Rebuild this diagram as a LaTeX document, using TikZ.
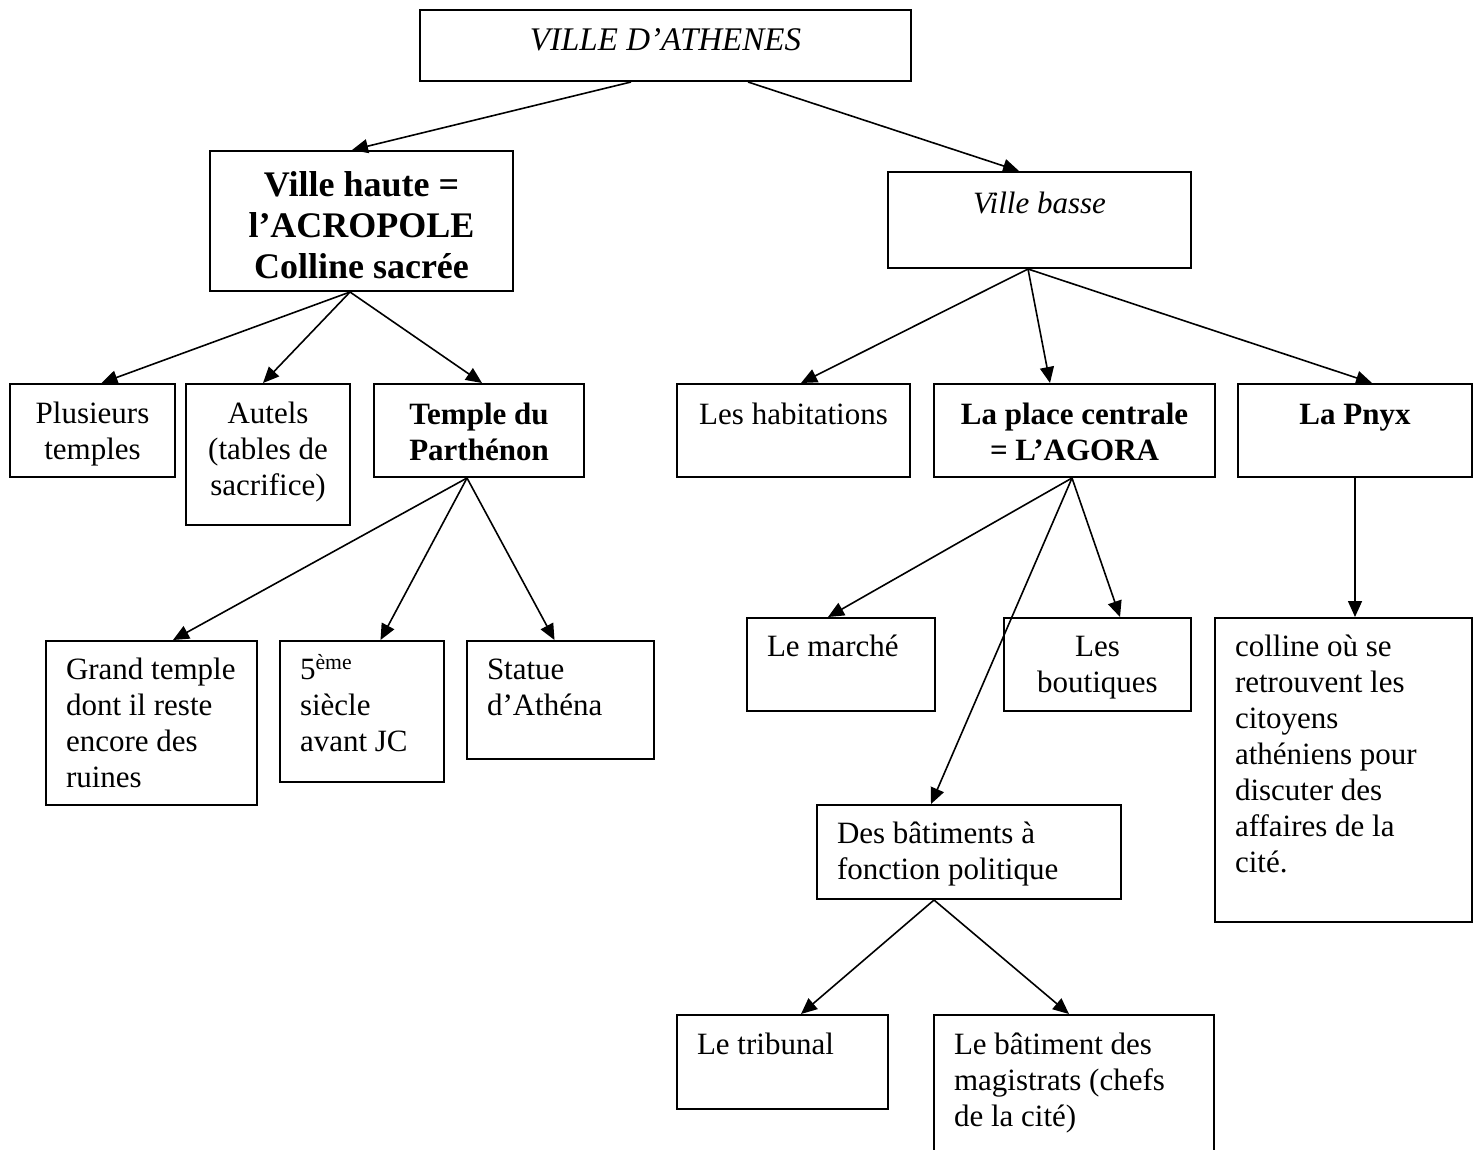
\documentclass[tikz,border=0pt]{standalone}
\usepackage{fontspec}
\setmainfont{Liberation Serif}
\usetikzlibrary{arrows.meta}
\newcommand\nf{\fontsize{31}{36}\selectfont}
\newcommand\boxC[4]{\parbox[c][#2pt][t]{#1pt}{\centering\leftskip=-50pt plus 1fil\rightskip=-50pt plus 1fil\parskip=0pt\rule{0pt}{#3pt}#4\par}}
\newcommand\boxL[4]{\parbox[c][#2pt][t]{#1pt}{\raggedright\leftskip=20pt\rightskip=-50pt plus 1fil\parskip=0pt\rule{0pt}{#3pt}#4\par}}
\tikzset{
  bx/.style={draw, line width=2pt, inner sep=0pt, anchor=north west, font=\nf},
  arr/.style={line width=1.6pt, -{Triangle[length=16pt,width=14pt]}}
}
\begin{document}
\begin{tikzpicture}[x=1pt,y=-1pt]
\useasboundingbox (0,0) rectangle (1479,1149);
\fill[white] (0,0) rectangle (1479,1149);
\clip (0,0) rectangle (1479,1149);
% boxes
\node[bx, font={\fontsize{33}{36}\selectfont\itshape}] (ville) at (419,9) {\boxC{491}{71}{40}{VILLE D’ATHENES}};
\node[bx, font={\fontsize{36}{41}\selectfont\bfseries}] (haute) at (209,150) {\boxC{303}{140}{45}{Ville haute =\\l’ACROPOLE\\Colline sacrée}};
\node[bx, font={\nf\itshape}] (basse) at (887,171) {\boxC{303}{96}{41}{Ville basse}};
\node[bx] (plus) at (9,383) {\boxC{165}{93}{39}{Plusieurs\\temples}};
\node[bx] (autels) at (185,383) {\boxC{164}{141}{39}{Autels\\(tables de\\sacrifice)}};
\node[bx, font={\nf\bfseries}] (temple) at (373,383) {\boxC{210}{93}{40}{Temple du\\Parthénon}};
\node[bx] (habit) at (676,383) {\boxC{233}{93}{40}{Les habitations}};
\node[bx, font={\nf\bfseries}] (agora) at (933,383) {\boxC{281}{93}{40}{La place centrale\\= L’AGORA}};
\node[bx, font={\nf\bfseries}] (pnyx) at (1237,383) {\boxC{234}{93}{40}{La Pnyx}};
\node[bx] (grand) at (45,640) {\boxL{211}{164}{38}{Grand temple\\dont il reste\\encore des\\ruines}};
\node[bx] (siecle) at (279,640) {\boxL{164}{141}{38}{5\textsuperscript{ème}\\siècle\\avant JC}};
\node[bx] (statue) at (466,640) {\boxL{187}{118}{38}{Statue\\d’Athéna}};
\node[bx] (marche) at (746,617) {\boxL{188}{93}{38}{Le marché}};
\node[bx] (bout) at (1003,617) {\boxC{187}{93}{38}{Les\\boutiques}};
\node[bx] (colline) at (1214,617) {\boxL{257}{304}{38}{colline où se\\retrouvent les\\citoyens\\athéniens pour\\discuter des\\affaires de la\\cité.}};
\node[bx] (bat) at (816,804) {\boxL{304}{94}{38.5}{Des bâtiments à\\fonction politique}};
\node[bx] (trib) at (676,1014) {\boxL{211}{94}{39}{Le tribunal}};
\node[bx] (mag) at (933,1014) {\boxL{280}{140}{39}{Le bâtiment des\\magistrats (chefs\\de la cité)}};
% connectors
\draw[arr] ([xshift=-34.5pt]ville.south) -- ([xshift=-9.5pt]haute.north);
\draw[arr] ([xshift=82.5pt]ville.south) -- ([xshift=-20.5pt]basse.north);
\draw[arr] ([xshift=-11.5pt]haute.south) -- ([xshift=9pt]plus.north);
\draw[arr] ([xshift=-11.5pt]haute.south) -- ([xshift=-5pt]autels.north);
\draw[arr] ([xshift=-11.5pt]haute.south) -- ([xshift=3pt]temple.north);
\draw[arr] ([xshift=-11.5pt]basse.south) -- ([xshift=7.5pt]habit.north);
\draw[arr] ([xshift=-11.5pt]basse.south) -- ([xshift=-24.5pt]agora.north);
\draw[arr] ([xshift=-11.5pt]basse.south) -- ([xshift=17pt]pnyx.north);
\draw[arr] ([xshift=-12pt]temple.south) -- ([xshift=21.5pt]grand.north);
\draw[arr] ([xshift=-12pt]temple.south) -- ([xshift=18.5pt]siecle.north);
\draw[arr] ([xshift=-12pt]temple.south) -- ([xshift=-6pt]statue.north);
\draw[arr] ([xshift=-2.5pt]agora.south) -- ([xshift=-13pt]marche.north);
\draw[arr] ([xshift=-2.5pt]agora.south) -- ([xshift=22.5pt]bout.north);
\draw[arr] ([xshift=-2.5pt]agora.south) -- ([xshift=-38pt]bat.north);
\draw[arr] (pnyx.south) -- ([xshift=11.5pt]colline.north);
\draw[arr] ([xshift=-35pt]bat.south) -- ([xshift=18.5pt]trib.north);
\draw[arr] ([xshift=-35pt]bat.south) -- ([xshift=-5pt]mag.north);
\end{tikzpicture}
\end{document}
